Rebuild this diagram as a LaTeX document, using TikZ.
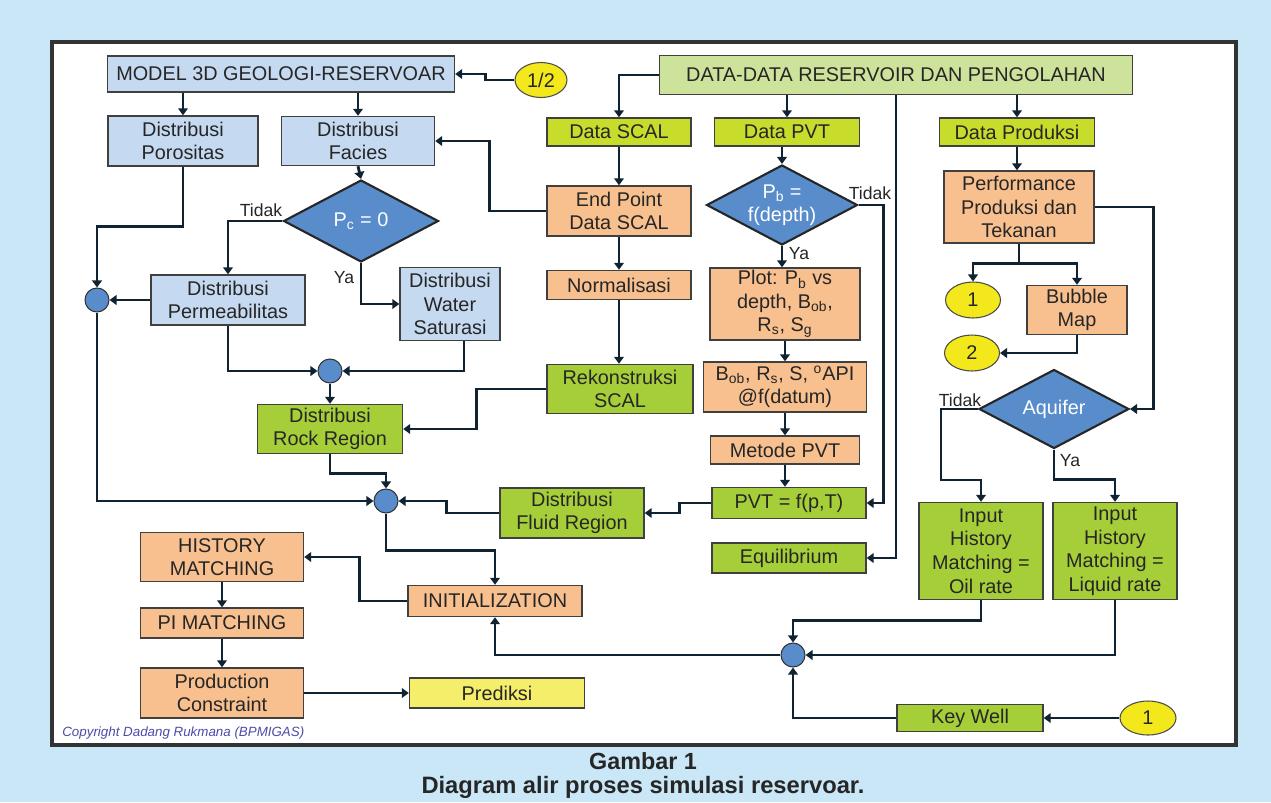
\documentclass[tikz,border=0pt]{standalone}
\usepackage{fontspec}
\setmainfont{Liberation Sans}
\usetikzlibrary{shapes.geometric,arrows.meta}
\definecolor{bg_blue}{RGB}{201,231,247}
\definecolor{box_blue}{RGB}{197,217,240}
\definecolor{data_green}{RGB}{205,226,154}
\definecolor{data_lime}{RGB}{200,220,44}
\definecolor{region_green}{RGB}{166,206,57}
\definecolor{step_orange}{RGB}{248,192,143}
\definecolor{conn_yellow}{RGB}{242,232,28}
\definecolor{pred_yellow}{RGB}{245,238,107}
\definecolor{dec_blue}{RGB}{88,140,202}
\definecolor{line_navy}{RGB}{16,35,50}
\definecolor{copy_purple}{RGB}{75,75,170}
\newcommand{\boxfont}{\fontsize{11.3}{13.4}\selectfont}

\begin{document}
\begin{tikzpicture}[x=0.02cm, y=-0.02cm,
    box/.style={draw=black!75, line width=0.8pt, rectangle, inner sep=0pt, align=center, text=black!85, font=\boxfont},
    decision/.style={draw=black!85, line width=1.2pt, diamond, aspect=1.9, fill=dec_blue, inner sep=0pt, align=center, text=white, font=\boxfont},
    joint/.style={draw=black!80, line width=0.6pt, circle, fill=dec_blue, minimum size=0.48cm, inner sep=0pt},
    connector/.style={draw=black!70, line width=0.6pt, ellipse, fill=conn_yellow, inner sep=0pt, text=black!85, font=\boxfont},
    lbl/.style={inner sep=0pt, text=black!85, font=\fontsize{10}{12}\selectfont},
    arr/.style={line width=1.6pt, draw=line_navy, -{Triangle[length=4pt,width=5.5pt]}}]
    % Background
    \fill[bg_blue] (0,0) rectangle (1271,802);
    \useasboundingbox (0,0) rectangle (1271,802);
    \draw[line width=1.8pt, draw=black!80, fill=white] (52,42) rectangle (1236,745);

    % Nodes
    \node[box, fill=box_blue, minimum width=6.94cm, minimum height=0.72cm] (model) at (281,74) {MODEL 3D GEOLOGI-RESERVOAR};
    \node[connector, minimum width=1.04cm, minimum height=0.7cm] (half) at (541,80) {1/2};
    \node[box, fill=box_blue, minimum width=3cm, minimum height=1cm] (poros) at (183,141) {Distribusi\\Porositas};
    \node[box, fill=box_blue, minimum width=3.06cm, minimum height=0.98cm] (facies) at (358,141) {Distribusi\\Facies};
    \node[decision, minimum width=3.1cm, minimum height=1.64cm] (pc) at (361,221) {P\textsubscript{c} = 0};
    \node[box, fill=box_blue, minimum width=3.08cm, minimum height=1cm] (perm) at (228,300) {Distribusi\\Permeabilitas};
    \node[box, fill=box_blue, minimum width=2cm, minimum height=1.46cm] (sw) at (450,304) {Distribusi\\Water\\Saturasi};
    \node[joint] (c1) at (97,300) {};
    \node[joint] (c2) at (330,371) {};
    \node[box, fill=region_green, minimum width=2.9cm, minimum height=0.98cm] (rock) at (330,429) {Distribusi\\Rock Region};
    \node[joint] (c3) at (386,501) {};
    \node[box, fill=region_green, minimum width=2.88cm, minimum height=1cm] (fluid) at (572,513) {Distribusi\\Fluid Region};
    \node[box, fill=step_orange, minimum width=3.26cm, minimum height=0.98cm] (hist) at (222,557) {HISTORY\\MATCHING};
    \node[box, fill=step_orange, minimum width=3.26cm, minimum height=0.6cm] (pim) at (222,623) {PI MATCHING};
    \node[box, fill=step_orange, minimum width=3.26cm, minimum height=1cm] (prod) at (222,693) {Production\\Constraint};
    \node[box, fill=pred_yellow, minimum width=3.5cm, minimum height=0.6cm] (pred) at (497,693) {Prediksi};
    \node[box, fill=step_orange, minimum width=3.48cm, minimum height=0.62cm] (init) at (495,601) {INITIALIZATION};
    \node[joint] (c4) at (793,655) {};

    \node[box, fill=data_green, minimum width=9.46cm, minimum height=0.78cm] (data) at (896,75) {DATA-DATA RESERVOIR DAN PENGOLAHAN};
    \node[box, fill=data_lime, minimum width=2.88cm, minimum height=0.56cm] (scal) at (619,132) {Data SCAL};
    \node[box, fill=data_lime, minimum width=2.9cm, minimum height=0.56cm] (pvt) at (787,132) {Data PVT};
    \node[box, fill=data_lime, minimum width=3.1cm, minimum height=0.56cm] (prodk) at (1017,132) {Data Produksi};
    \node[box, fill=step_orange, minimum width=2.88cm, minimum height=1cm] (endp) at (619,211) {End Point\\Data SCAL};
    \node[box, fill=step_orange, minimum width=2.88cm, minimum height=0.58cm] (norm) at (619,285) {Normalisasi};
    \node[box, fill=region_green, minimum width=2.92cm, minimum height=0.98cm] (rekon) at (620,389) {Rekonstruksi\\SCAL};
    \node[decision, minimum width=3.02cm, minimum height=1.6cm] (pb) at (782,205) {P\textsubscript{b} =\\f(depth)};
    \node[box, fill=step_orange, minimum width=3cm, minimum height=1.44cm] (plot) at (785,304) {Plot: P\textsubscript{b} vs\\depth, B\textsubscript{ob},\\R\textsubscript{s}, S\textsubscript{g}};
    \node[box, fill=step_orange, minimum width=3.26cm, minimum height=1cm] (bob) at (785,387) {B\textsubscript{ob}, R\textsubscript{s}, S, \textsuperscript{o}API\\@f(datum)};
    \node[box, fill=step_orange, minimum width=2.98cm, minimum height=0.56cm] (metode) at (785,450) {Metode PVT};
    \node[box, fill=region_green, minimum width=3.08cm, minimum height=0.62cm] (pvtf) at (789,503) {PVT = f(p,T)};
    \node[box, fill=region_green, minimum width=3.08cm, minimum height=0.6cm] (equil) at (789,558) {Equilibrium};

    \node[box, fill=step_orange, minimum width=3cm, minimum height=1.44cm] (perf) at (1019,207) {Performance\\Produksi dan\\Tekanan};
    \node[connector, minimum width=1.1cm, minimum height=0.72cm] (one1) at (973,300) {1};
    \node[box, fill=step_orange, minimum width=2cm, minimum height=0.98cm] (bubble) at (1077,310) {Bubble\\Map};
    \node[connector, minimum width=1.1cm, minimum height=0.72cm] (two) at (972,353) {2};
    \node[decision, minimum width=3cm, minimum height=1.58cm] (aq) at (1054,409) {Aquifer};
    \node[box, fill=region_green, minimum width=2.48cm, minimum height=1.94cm] (oil) at (981,551) {Input\\History\\Matching =\\Oil rate};
    \node[box, fill=region_green, minimum width=2.48cm, minimum height=1.94cm] (liq) at (1115,551) {Input\\History\\Matching =\\Liquid rate};
    \node[box, fill=region_green, minimum width=2.92cm, minimum height=0.54cm] (key) at (970,718) {Key Well};
    \node[connector, minimum width=1.12cm, minimum height=0.68cm] (one2) at (1148,718) {1};

    % Decision labels
    \node[lbl] (pcno) at (261,210) {Tidak};
    \node[lbl] (pcyes) at (344,278) {Ya};
    \node[lbl] (pbno) at (870,193) {Tidak};
    \node[lbl] (pbyes) at (799,254) {Ya};
    \node[lbl] (aqno) at (960,400) {Tidak};
    \node[lbl] (aqyes) at (1070,461) {Ya};

    % Arrows, left part
    \draw[arr] (half.west) -- ++(-29,0) |- (model.east);
    \draw[arr] (poros.north |- model.south) -- (poros.north);
    \draw[arr] (facies.north |- model.south) -- (facies.north);
    \draw[arr] (facies.south) -- (pc.north);
    \draw[arr] (pc.west) -| (perm.north);
    \draw[arr] (pc.south) |- (sw.west);
    \draw[arr] (perm.west) -- (c1.east);
    \draw[arr] (poros.south) -- ++(0,60) -| (c1.north);
    \draw[arr] (perm.south) |- (c2.west);
    \draw[arr] ([xshift=0.28cm]sw.south) |- (c2.east);
    \draw[arr] (c2.south) -- (rock.north);
    \draw[arr] (rekon.west) -- ++(-70,0) |- (rock.east);
    \draw[arr] (rock.south) -- ++(0,19) -| (c3.north);
    \draw[arr] (c1.south) |- (c3.west);
    \draw[arr] (fluid.west) -- ++(-53,0) |- (c3.east);
    \draw[arr] (c3.south) -- ++(0,37) -| (init.north);
    \draw[arr] (init.west) -- ++(-48,0) |- (hist.east);
    \draw[arr] (hist.south) -- (pim.north);
    \draw[arr] (pim.south) -- (prod.north);
    \draw[arr] (prod.east) -- (pred.west);

    % Arrows, data part
    \draw[arr] (data.west) -| (scal.north);
    \draw[arr] (pvt.north |- data.south) -- (pvt.north);
    \draw[arr] (prodk.north |- data.south) -- (prodk.north);
    \draw[arr] (data.south) |- (equil.east);
    \draw[arr] (scal.south) -- (endp.north);
    \draw[arr] (endp.south) -- (norm.north);
    \draw[arr] (norm.south) -- (rekon.north -| norm.south);
    \draw[arr] (endp.west) -- ++(-57,0) |- (facies.east);
    \draw[arr] (pvt.south -| pb.north) -- (pb.north);
    \draw[arr] (pb.south) -- (pb.south |- plot.north);
    \draw[arr] (plot.south) -- (bob.north);
    \draw[arr] (bob.south) -- (metode.north);
    \draw[arr] (metode.south) -- (metode.south |- pvtf.north);
    \draw[arr] (pb.east) -- ++(25,0) |- (pvtf.east);
    \draw[arr] (pvtf.west) -- ++(-32,0) |- (fluid.east);

    % Arrows, production part
    \draw[arr] (prodk.south) -- (prodk.south |- perf.north);
    \draw[arr] (perf.south) -- ++(0,20) -| (one1.north);
    \draw[arr] (perf.south) -- ++(0,20) -| (bubble.north);
    \draw[arr] (perf.east) -- ++(59,0) |- (aq.east);
    \draw[arr] (bubble.south) |- (two.east);
    \draw[arr] (aq.west) -- ++(-37,0) -- ++(0,71) -| (oil.north);
    \draw[arr] (aq.south) -- ++(0,30) -| (liq.north);
    \draw[arr] (oil.south) -- ++(0,20) -| (c4.north);
    \draw[arr] (liq.south) |- (c4.east);
    \draw[arr] (key.west) -| (c4.south);
    \draw[arr] (one2.west) -- (key.east);
    \draw[arr] (c4.west) -| (init.south);

    % Caption
    \node[anchor=west, inner sep=0pt, text=copy_purple, font=\fontsize{7.6}{9}\selectfont\itshape] (copyr) at (62,733) {Copyright Dadang Rukmana (BPMIGAS)};
    \node[text=black!85, font=\fontsize{13.3}{15}\selectfont\bfseries] (capnum) at (643,761) {Gambar 1};
    \node[text=black!85, font=\fontsize{13.5}{15}\selectfont\bfseries] (captxt) at (643,787) {Diagram alir proses simulasi reservoar.};
\end{tikzpicture}
\end{document}
